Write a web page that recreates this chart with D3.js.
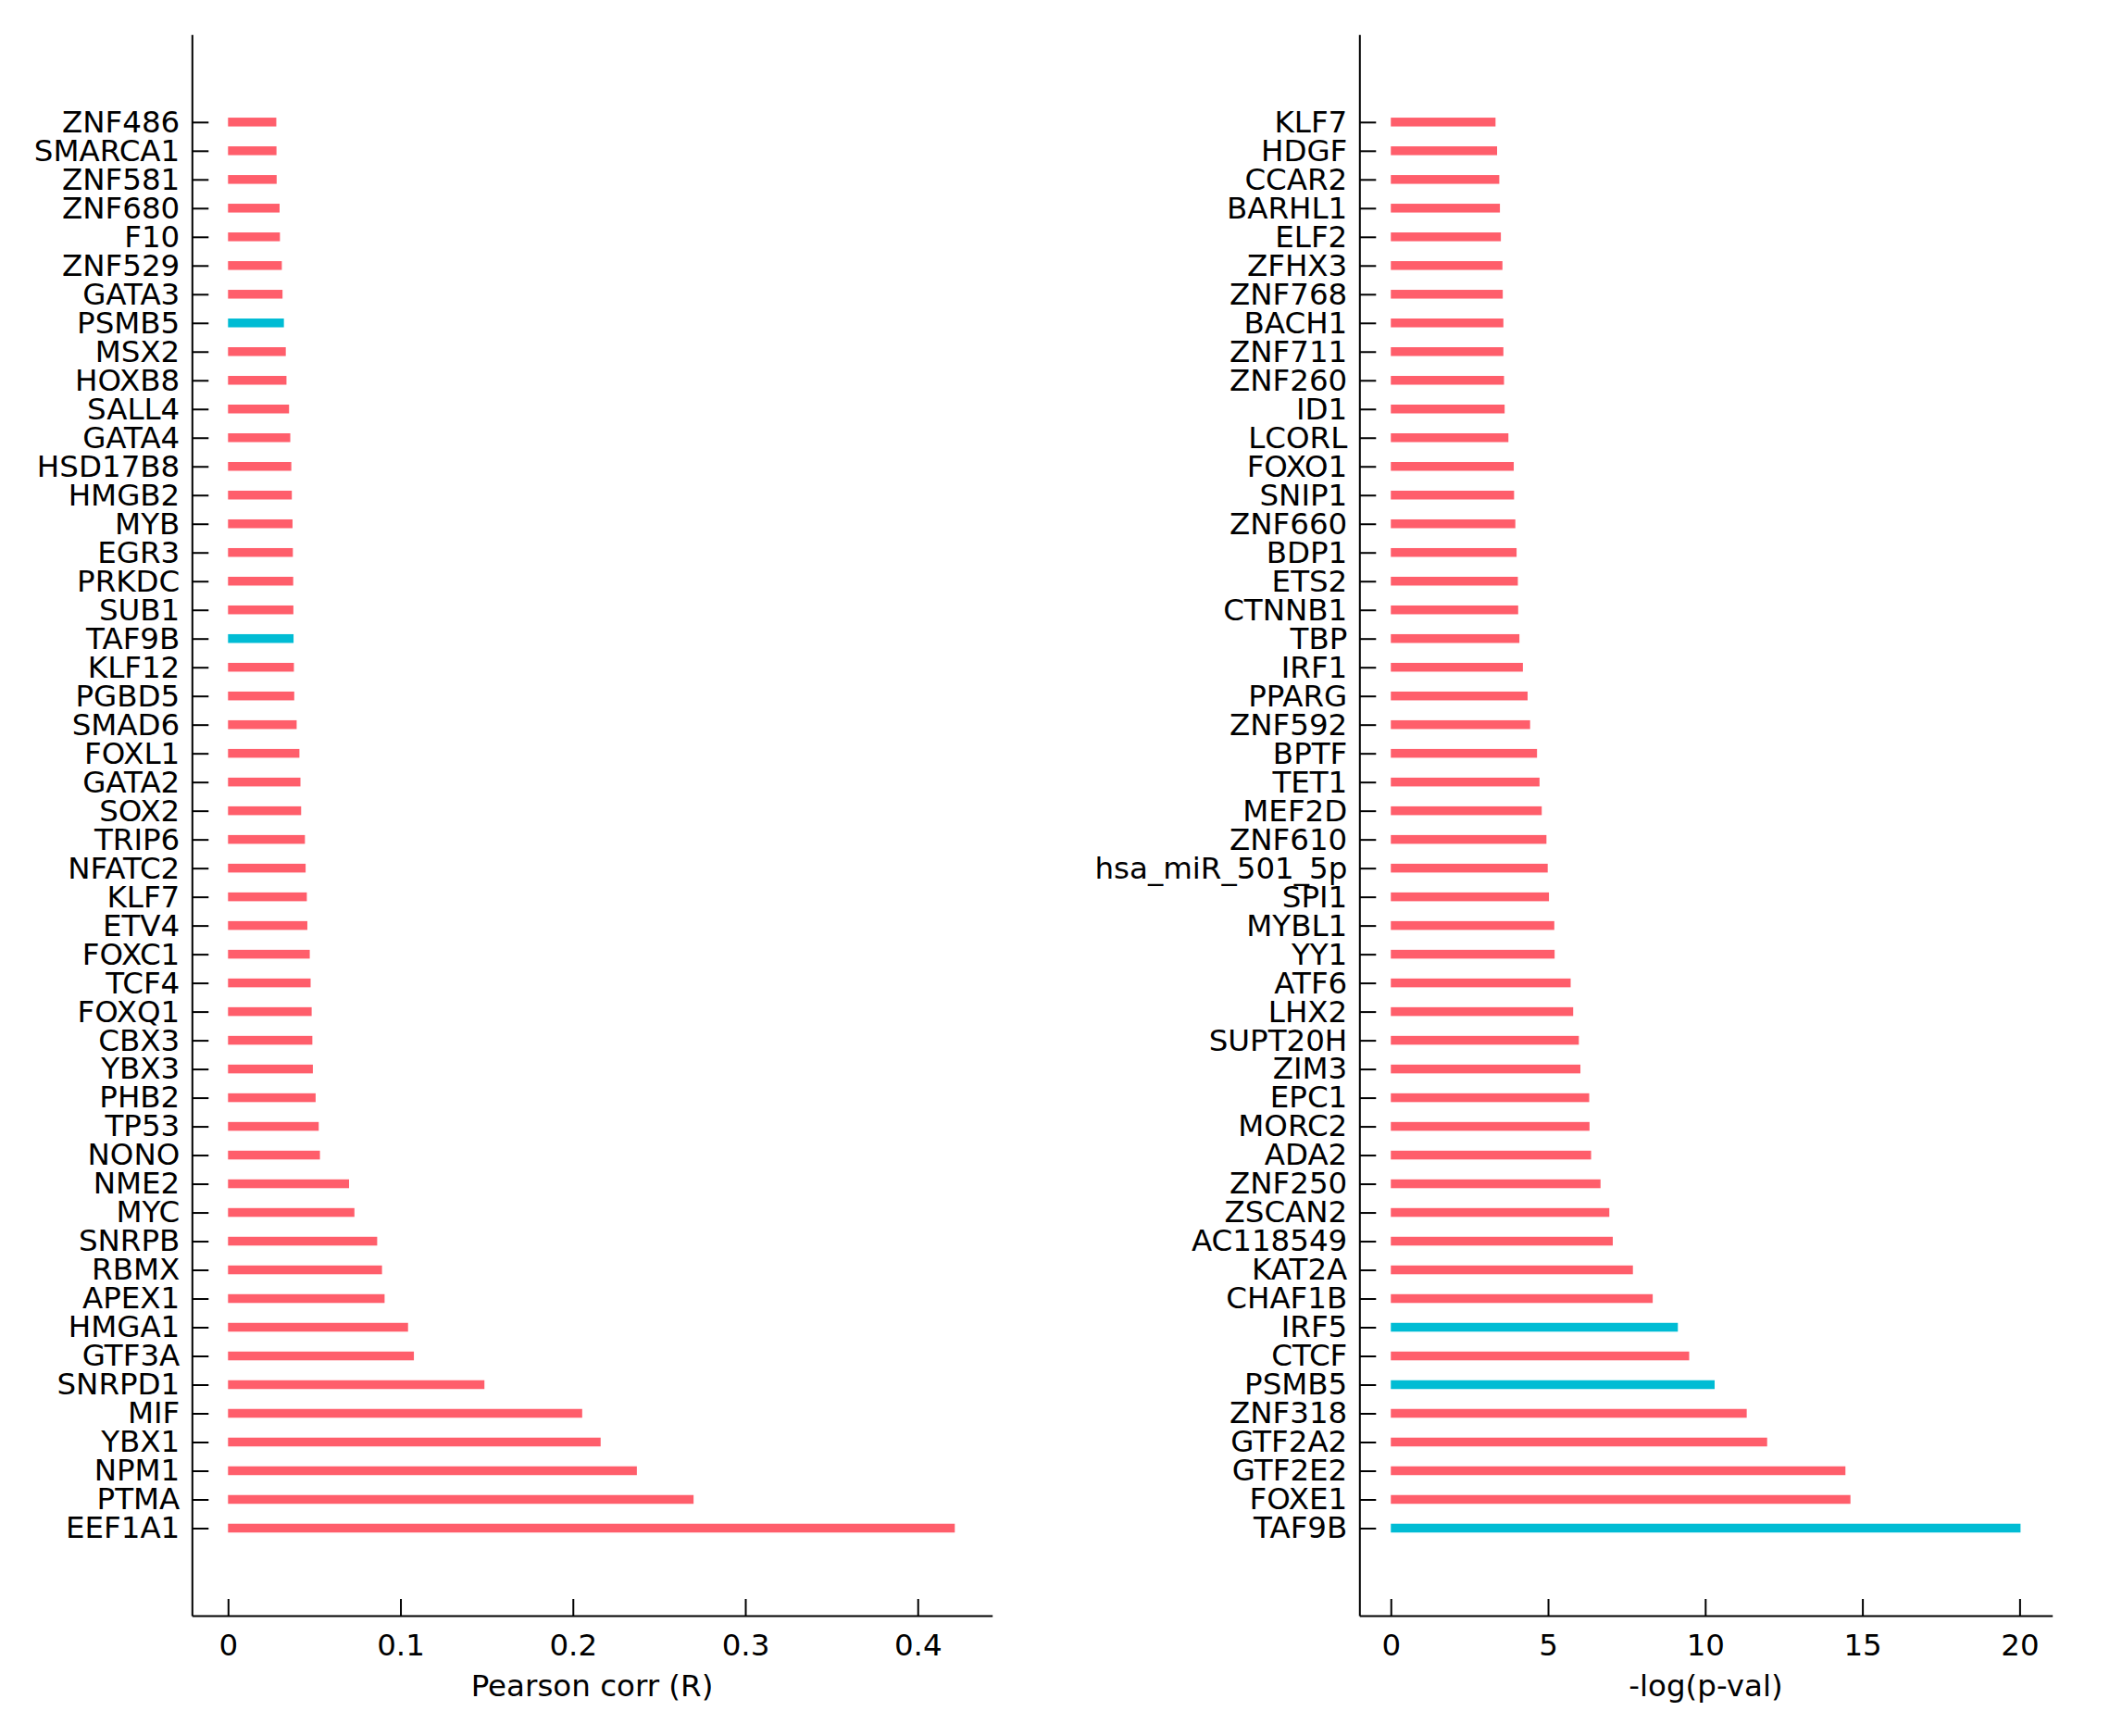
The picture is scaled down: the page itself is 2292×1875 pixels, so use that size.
<!DOCTYPE html>
<html>
<head>
<meta charset="utf-8">
<script src="https://cdn.jsdelivr.net/npm/d3@7"></script>
<style>
  html, body { margin: 0; padding: 0; background: #fff; }
  svg { display: block; font-family: "DejaVu Sans", sans-serif; }
</style>
</head>
<body>
<svg id="chart" width="2292" height="1875"></svg>
<script>
// ---- Data ----
const corrGenes = ["ZNF486","SMARCA1","ZNF581","ZNF680","F10","ZNF529","GATA3","PSMB5","MSX2","HOXB8",
  "SALL4","GATA4","HSD17B8","HMGB2","MYB","EGR3","PRKDC","SUB1","TAF9B","KLF12",
  "PGBD5","SMAD6","FOXL1","GATA2","SOX2","TRIP6","NFATC2","KLF7","ETV4","FOXC1",
  "TCF4","FOXQ1","CBX3","YBX3","PHB2","TP53","NONO","NME2","MYC","SNRPB",
  "RBMX","APEX1","HMGA1","GTF3A","SNRPD1","MIF","YBX1","NPM1","PTMA","EEF1A1"];
const corrValues = [0.0280,0.0281,0.0282,0.0299,0.0301,0.0312,0.0316,0.0324,0.0335,0.0339,
  0.0354,0.0361,0.0367,0.0370,0.0374,0.0376,0.0378,0.0379,0.0380,0.0382,
  0.0384,0.0398,0.0414,0.0420,0.0424,0.0446,0.0450,0.0457,0.0460,0.0474,
  0.0479,0.0485,0.0489,0.0492,0.0508,0.0526,0.0533,0.0702,0.0733,0.0865,
  0.0893,0.0908,0.1044,0.1078,0.1487,0.2054,0.2161,0.2371,0.2700,0.4215];
const corrHighlight = ["PSMB5","TAF9B"];

const pvalGenes = ["KLF7","HDGF","CCAR2","BARHL1","ELF2","ZFHX3","ZNF768","BACH1","ZNF711","ZNF260",
  "ID1","LCORL","FOXO1","SNIP1","ZNF660","BDP1","ETS2","CTNNB1","TBP","IRF1",
  "PPARG","ZNF592","BPTF","TET1","MEF2D","ZNF610","hsa_miR_501_5p","SPI1","MYBL1","YY1",
  "ATF6","LHX2","SUPT20H","ZIM3","EPC1","MORC2","ADA2","ZNF250","ZSCAN2","AC118549",
  "KAT2A","CHAF1B","IRF5","CTCF","PSMB5","ZNF318","GTF2A2","GTF2E2","FOXE1","TAF9B"];
const pvalValues = [3.33,3.38,3.45,3.47,3.50,3.55,3.56,3.58,3.58,3.60,
  3.62,3.74,3.91,3.92,3.96,4.00,4.04,4.05,4.09,4.20,
  4.35,4.43,4.65,4.73,4.80,4.95,4.99,5.03,5.20,5.21,
  5.72,5.80,5.98,6.03,6.31,6.32,6.37,6.67,6.95,7.06,
  7.70,8.33,9.13,9.49,10.30,11.32,11.97,14.46,14.62,20.03];
const pvalHighlight = ["IRF5","PSMB5","TAF9B"];

const corrTicks = [0, 0.1, 0.2, 0.3, 0.4];
const corrTickLabels = ["0", "0.1", "0.2", "0.3", "0.4"];
const pvalTicks = [0, 5, 10, 15, 20];
const pvalTickLabels = ["0", "5", "10", "15", "20"];

const corrTitle = "Pearson corr (R)";
const pvalTitle = "-log(p-val)";

// ---- Styles ----
const RED = "#ff5e6b";
const CYAN = "#00bcd4";
const FONT = 32.5;

const svg = d3.select("#chart");

function panel(opts) {
  const g = svg.append("g");
  const x = d3.scaleLinear().domain(opts.xDomain).range(opts.xRange);
  const y = d3.scalePoint().domain(opts.genes).range([37.3, 1745]).padding(3.05);

  // bars
  const data = opts.genes.map((name, i) => ({ name, value: opts.values[i] }));
  g.selectAll("rect.bar").data(data).enter().append("rect")
    .attr("class", "bar")
    .attr("x", x(0))
    .attr("y", d => y(d.name) - 4.75)
    .attr("width", d => x(d.value) - x(0))
    .attr("height", 9.5)
    .attr("fill", d => opts.highlight.includes(d.name) ? CYAN : RED);

  // y axis
  const yAxis = d3.axisLeft(y).tickSizeInner(-18).tickSizeOuter(0).tickPadding(13);
  const ya = g.append("g").attr("transform", `translate(${opts.xRange[0]},0)`).call(yAxis);
  ya.select(".domain").attr("stroke", "#000").attr("stroke-width", 2);
  ya.selectAll(".tick line").attr("stroke", "#000").attr("stroke-width", 2);
  ya.selectAll(".tick text").attr("font-size", FONT).attr("fill", "#000")
    .attr("font-family", "DejaVu Sans");

  // x axis
  const xAxis = d3.axisBottom(x).tickValues(opts.ticks)
    .tickFormat((d, i) => opts.tickLabels[i])
    .tickSizeInner(-18).tickSizeOuter(0).tickPadding(20);
  const xa = g.append("g").attr("transform", `translate(0,1745)`).call(xAxis);
  xa.select(".domain").attr("stroke", "#000").attr("stroke-width", 2);
  xa.selectAll(".tick line").attr("stroke", "#000").attr("stroke-width", 2);
  xa.selectAll(".tick text").attr("font-size", FONT).attr("fill", "#000")
    .attr("font-family", "DejaVu Sans");

  // title
  g.append("text")
    .attr("x", (opts.xRange[0] + opts.xRange[1]) / 2)
    .attr("y", 1832)
    .attr("text-anchor", "middle")
    .attr("font-size", FONT)
    .attr("fill", "#000")
    .text(opts.title);
}

panel({
  genes: corrGenes, values: corrValues, highlight: corrHighlight,
  xDomain: [-0.02094, 0.4432], xRange: [207.3, 1071.7],
  ticks: corrTicks, tickLabels: corrTickLabels, title: corrTitle
});

panel({
  genes: pvalGenes, values: pvalValues, highlight: pvalHighlight,
  xDomain: [-1.0, 21.04], xRange: [1468.3, 2216.7],
  ticks: pvalTicks, tickLabels: pvalTickLabels, title: pvalTitle
});
</script>
</body>
</html>
